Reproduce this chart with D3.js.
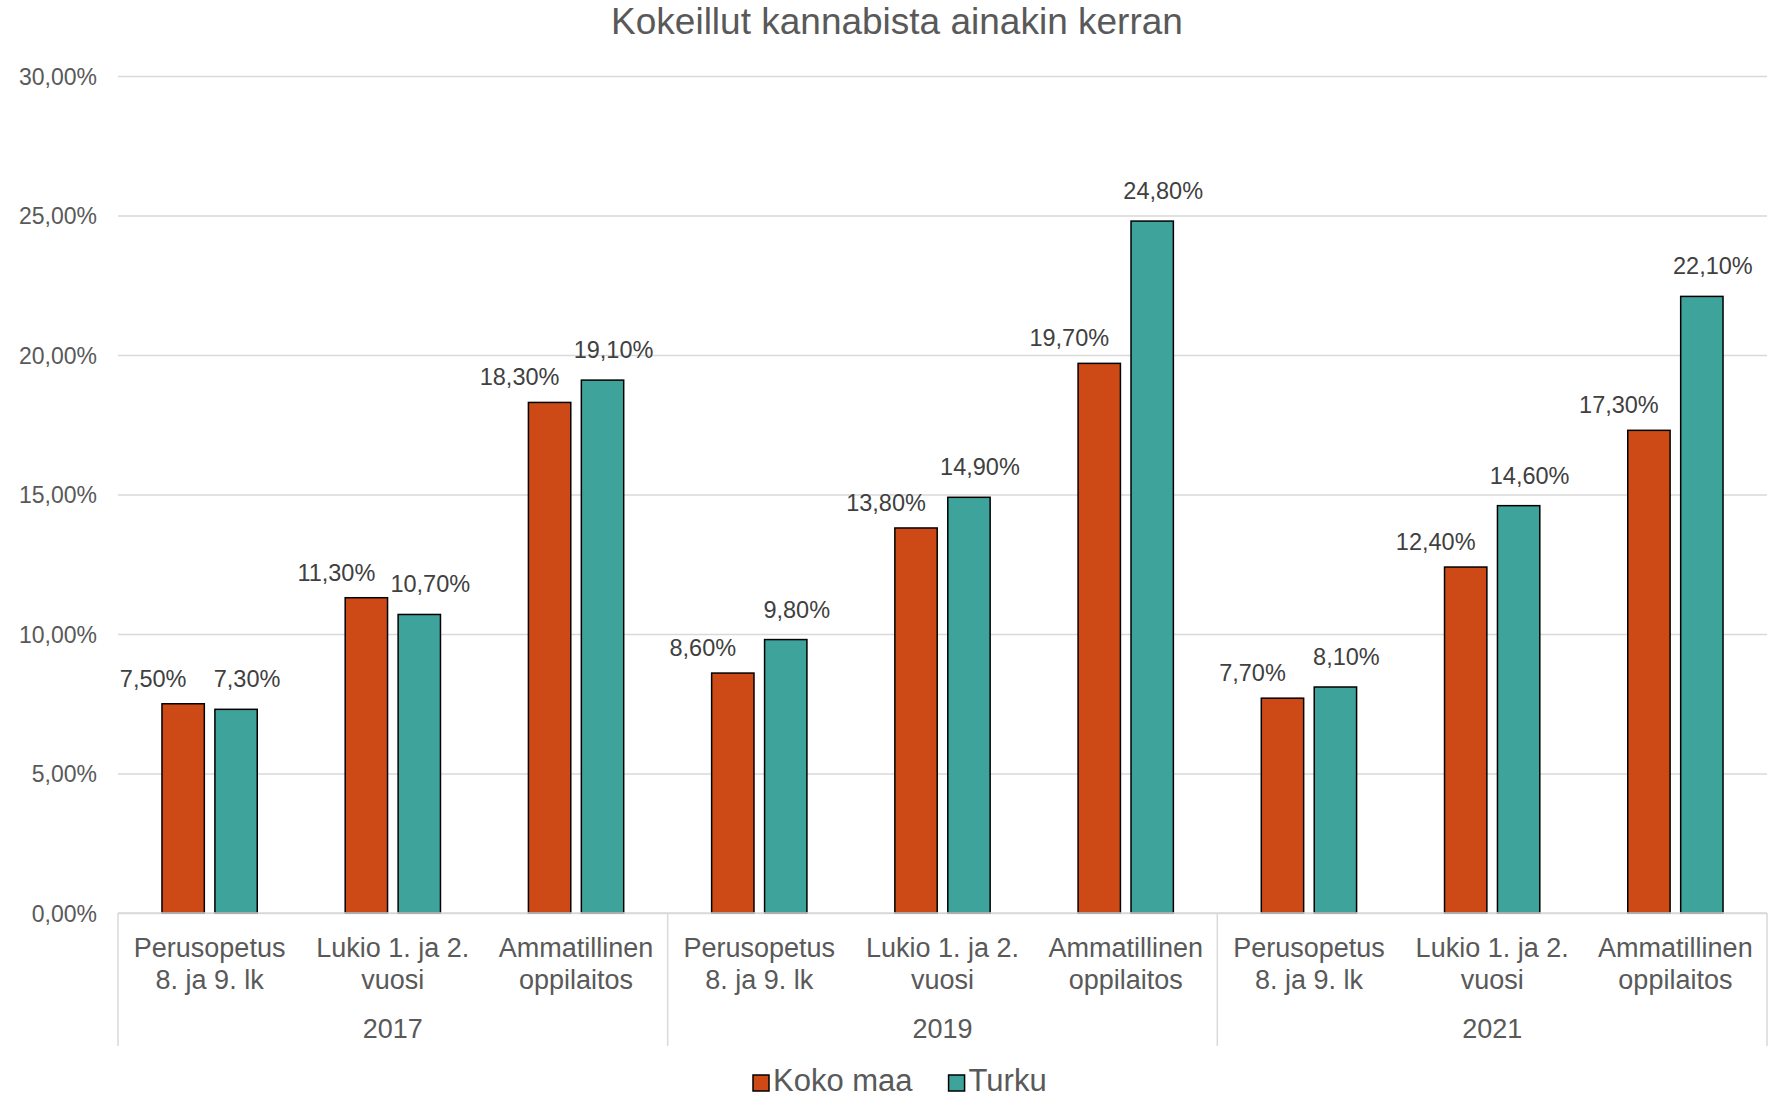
<!DOCTYPE html>
<html>
<head>
<meta charset="utf-8">
<script src="https://cdn.jsdelivr.net/npm/d3@7"></script>
<style>
  body { margin: 0; background: #fff; }
  svg { display: block; font-family: "Liberation Sans", Arial, sans-serif; }
</style>
</head>
<body>
<div id="plot"></div>
<script>
// Data
const years = ["2017", "2019", "2021"];
const levels = [
    ["Perusopetus", "8. ja 9. lk"],
    ["Lukio 1. ja 2.", "vuosi"],
    ["Ammatillinen", "oppilaitos"]
];
const seriesNames = ["Koko maa", "Turku"];
const kokoMaa = [7.5, 11.3, 18.3, 8.6, 13.8, 19.7, 7.7, 12.4, 17.3];
const turku = [7.3, 10.7, 19.1, 9.8, 14.9, 24.8, 8.1, 14.6, 22.1];
const yTicks = [0, 5, 10, 15, 20, 25, 30];
const title = "Kokeillut kannabista ainakin kerran";

const colors = ["#cd4a16", "#3ea39b"];

// Finnish style number format: 7,50%
const fi = d3.formatLocale({decimal: ",", thousands: "\u00a0", grouping: [3], currency: ["", "\u00a0€"]});
const pct = v => fi.format(".2%")(v / 100);

function createPlot() {
    d3.select("#plot").html("");

    const width = 1778;
    const height = 1099;
    const marginTop = 76;
    const marginRight = 11;
    const marginBottom = 186;
    const marginLeft = 118;

    // one entry per category (year x level)
    const cats = [];
    years.forEach((yr, i) => levels.forEach((lv, j) => cats.push({key: yr + "|" + j, year: yr, lines: lv, idx: i * 3 + j})));

    const x0 = d3.scaleBand()
        .domain(cats.map(d => d.key))
        .range([marginLeft, width - marginRight])
        .paddingInner(0.48)
        .paddingOuter(0.24);

    const x1 = d3.scaleBand()
        .domain(seriesNames)
        .range([0, x0.bandwidth()])
        .paddingInner(0.2);

    const y = d3.scaleLinear()
        .domain([0, 30])
        .range([height - marginBottom, marginTop]);

    const svg = d3.select("#plot")
        .append("svg")
        .attr("width", width)
        .attr("height", height)
        .attr("viewBox", [0, 0, width, height]);

    // Title
    svg.append("text")
        .attr("x", 897)
        .attr("y", 34)
        .attr("text-anchor", "middle")
        .attr("fill", "#595959")
        .style("font-size", "37px")
        .text(title);

    // Grid lines + y labels
    const yAxis = svg.append("g")
        .attr("transform", `translate(${marginLeft},0)`)
        .call(d3.axisLeft(y).tickValues(yTicks).tickFormat(pct).tickSize(-(width - marginLeft - marginRight)).tickPadding(21))
        .call(g => g.select(".domain").remove());

    yAxis.selectAll(".tick line")
        .attr("stroke", "#d9d9d9")
        .attr("stroke-width", 1.5);

    yAxis.selectAll("text")
        .attr("fill", "#595959")
        .attr("dy", "0.36em")
        .style("font-size", "23px");

    // Bars
    const series = [kokoMaa, turku];
    const bars = svg.append("g");
    cats.forEach(c => {
        seriesNames.forEach((s, k) => {
            const v = series[k][c.idx];
            bars.append("rect")
                .attr("x", x0(c.key) + x1(s))
                .attr("y", y(v))
                .attr("width", x1.bandwidth())
                .attr("height", y(0) - y(v))
                .attr("fill", colors[k])
                .attr("stroke", "#000")
                .attr("stroke-width", 1.5);
        });
    });

    // Data labels (Excel put them a bit off-centre)
    const labelShift = [-30, 11];
    const labelLift = [17, 22];
    const labels = svg.append("g")
        .attr("text-anchor", "middle")
        .attr("fill", "#404040")
        .style("font-size", "23.5px");
    cats.forEach(c => {
        seriesNames.forEach((s, k) => {
            const v = series[k][c.idx];
            labels.append("text")
                .attr("x", x0(c.key) + x1(s) + x1.bandwidth() / 2 + labelShift[k])
                .attr("y", y(v) - labelLift[k])
                .text(pct(v));
        });
    });

    // Category axis line
    const base = y(0);
    svg.append("line")
        .attr("x1", marginLeft).attr("x2", width - marginRight)
        .attr("y1", base).attr("y2", base)
        .attr("stroke", "#d9d9d9").attr("stroke-width", 1.5);

    // Level labels
    const catText = svg.append("g")
        .attr("text-anchor", "middle")
        .attr("fill", "#595959")
        .style("font-size", "27px");
    cats.forEach(c => {
        const cx = x0(c.key) + x0.bandwidth() / 2;
        c.lines.forEach((ln, i) => {
            catText.append("text")
                .attr("x", cx)
                .attr("y", base + 44 + i * 32)
                .text(ln);
        });
    });

    // Year labels and group separators
    const groupW = (width - marginLeft - marginRight) / years.length;
    years.forEach((yr, i) => {
        catText.append("text")
            .attr("x", marginLeft + groupW * (i + 0.5))
            .attr("y", base + 125)
            .text(yr);
    });
    d3.range(years.length + 1).forEach(i => {
        svg.append("line")
            .attr("x1", marginLeft + groupW * i).attr("x2", marginLeft + groupW * i)
            .attr("y1", base).attr("y2", base + 133)
            .attr("stroke", "#d9d9d9").attr("stroke-width", 1.5);
    });

    // Legend
    const legend = svg.append("g").style("font-size", "31px").attr("fill", "#595959");
    let lx = 753;
    seriesNames.forEach((s, k) => {
        legend.append("rect")
            .attr("x", lx).attr("y", 1075)
            .attr("width", 16).attr("height", 16)
            .attr("fill", colors[k])
            .attr("stroke", "#000").attr("stroke-width", 1.5);
        const t = legend.append("text")
            .attr("x", lx + 20)
            .attr("y", 1091)
            .text(s);
        lx += 20 + t.node().getComputedTextLength() + 36;
    });

    return svg.node();
}

createPlot();
</script>
</body>
</html>
